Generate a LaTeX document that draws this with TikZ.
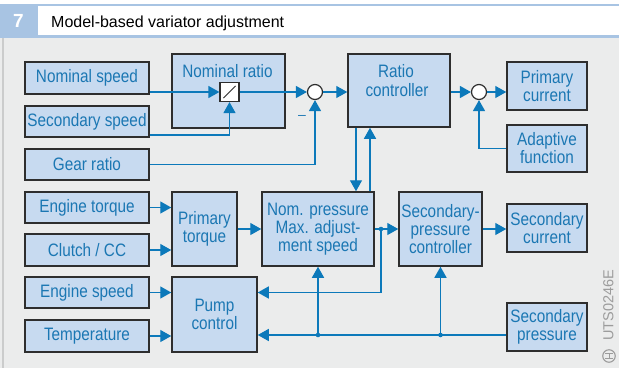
\documentclass[tikz,border=0pt]{standalone}
\usepackage{fontspec}
\setmainfont{Liberation Sans}
\newfontfamily\narrowfont{Liberation Sans}[FakeStretch=0.85]
\usetikzlibrary{arrows.meta,calc}
\definecolor{hdrblue}{HTML}{A8C4E3}
\definecolor{bodybg}{HTML}{EBECEC}
\definecolor{edgegray}{HTML}{CBCCCC}
\definecolor{boxfill}{HTML}{C7DAF0}
\definecolor{boxborder}{HTML}{2E2E2E}
\definecolor{txtblue}{HTML}{1B77B3}
\definecolor{lineblue}{HTML}{0C79BA}
\definecolor{markgray}{HTML}{9C9C9C}
\tikzset{
  box/.style={draw=boxborder, line width=1.5pt, fill=boxfill, text=txtblue,
    font=\narrowfont\fontsize{18}{18}\selectfont, align=center, inner sep=0pt},
  lbl/.style={text=txtblue, font=\narrowfont\fontsize{18}{18}\selectfont, inner sep=0pt, anchor=base},
  conn/.style={draw=lineblue, line width=1.4pt},
  arr/.style={conn, -{Triangle[length=11pt,width=12pt]}},
  sumpt/.style={circle, draw=boxborder, line width=1.2pt, fill=white, minimum size=15pt, inner sep=0pt},
  jdot/.style={fill=lineblue}
}
\begin{document}
\begin{tikzpicture}[x=1pt,y=-1pt]
\useasboundingbox (0,0) rectangle (619,368);
\fill[white] (0,0) rectangle (619,368);
\fill[bodybg] (0,38) rectangle (619,368);
\fill[hdrblue] (0,4) rectangle (619,6);
\fill[hdrblue] (0,35) rectangle (619,38);
\fill[hdrblue] (0,4) rectangle (38,38);
\fill[edgegray] (2,38) rectangle (4,368);
\node[text=white, font=\bfseries\fontsize{19}{19}\selectfont, inner sep=0pt] (num) at (18.5,21) {7};
\node[anchor=base west, inner sep=0pt, font=\fontsize{16}{16}\selectfont] (title) at (51,27) {Model-based variator adjustment};

% left inputs
\node[box, minimum width=124pt, minimum height=32pt] (nomspeed) at (87,78) {Nominal speed};
\node[box, minimum width=124pt, minimum height=31pt] (secspeed) at (87,121.5) {Secondary speed};
\node[box, minimum width=124pt, minimum height=31pt] (gear) at (87,164.5) {Gear ratio};
\node[box, minimum width=124pt, minimum height=31pt] (engtorque) at (87,207.5) {Engine torque};
\node[box, minimum width=124pt, minimum height=32pt] (clutch) at (87,250) {Clutch / CC};
\node[box, minimum width=124pt, minimum height=31pt] (engspeed) at (87,292.5) {Engine speed};
\node[box, minimum width=124pt, minimum height=32pt] (temp) at (87,336) {Temperature};

% top row
\node[box, minimum width=113pt, minimum height=74pt] (nomratio) at (228.5,91) {};
\node[lbl] (nomratiotxt) at (227.5,77) {Nominal ratio};
\node[draw=boxborder, line width=1.2pt, fill=white, minimum size=19pt, inner sep=0pt] (div) at (229.5,92) {};
\draw[boxborder, line width=1pt] ($(div.south west)+(4,-4)$) -- ($(div.north east)+(-4,4)$);
\node[sumpt] (sum1) at (315,92) {};
\node[box, minimum width=102pt, minimum height=73pt] (ratioctl) at (399,90.5) {};
\node[lbl] (ratiotxt) at (396,77) {Ratio};
\node[lbl] (ctltxt) at (397,96) {controller};
\node[sumpt] (sum2) at (479,92) {};
\node[box, minimum width=80pt, minimum height=48pt] (primcur) at (547,86) {Primary\\current};
\node[box, minimum width=80pt, minimum height=47pt] (adapt) at (547,148.5) {Adaptive\\function};
\node[text=txtblue, font=\fontsize{14}{14}\selectfont, inner sep=0pt] (minus) at (302,117) {–};

% lower part
\node[box, minimum width=65pt, minimum height=74pt] (primtorque) at (204.5,229) {Primary\\torque};
\node[box, minimum width=85pt, minimum height=75pt] (pump) at (214.5,314.5) {Pump\\control};
\node[box, minimum width=112pt, minimum height=74pt] (nompress) at (318,229) {Nom. pressure\\Max. adjust-\\ment speed};
\node[box, minimum width=83pt, minimum height=74pt] (secpctl) at (440.5,229) {Secondary-\\pressure\\controller};
\node[box, minimum width=80pt, minimum height=48pt] (seccur) at (547,228) {Secondary\\current};
\node[box, minimum width=80pt, minimum height=48pt] (secpress) at (547,327) {Secondary\\pressure};

\coordinate (j1) at (381,229);
\coordinate (j1b) at (381,292.5);
\coordinate (j2) at (318,335);
\coordinate (j3) at (440.5,335);

% connectors
\draw[arr] (nomspeed.east |- div.west) -- (div.west);
\draw[arr] (secspeed.east |- 0,135) -| (div.south);
\draw[arr] (div.east) -- (sum1.west);
\draw[arr] (gear.east) -| (sum1.south);
\draw[arr] (sum1.east) -- (sum1.east -| ratioctl.west);
\draw[arr] (ratioctl.east |- sum2.west) -- (sum2.west);
\draw[arr] (sum2.east) -- (sum2.east -| primcur.west);
\draw[arr] (adapt.west) -| (sum2.south);
\draw[arr] (ratioctl.south -| 356,0) -- (nompress.north -| 356,0);
\draw[arr] (nompress.north -| 370,0) -- (ratioctl.south -| 370,0);
\draw[arr] (engtorque.east) -- (engtorque.east -| primtorque.west);
\draw[arr] (clutch.east) -- (clutch.east -| primtorque.west);
\draw[arr] (primtorque.east) -- (nompress.west);
\draw[arr] (nompress.east) -- (secpctl.west);
\draw[arr] (j1) -- (j1b) -- (j1b -| pump.east);
\draw[arr] (secpctl.east) -- (secpctl.east -| seccur.west);
\draw[arr] (engspeed.east) -- (engspeed.east -| pump.west);
\draw[arr] (temp.east) -- (temp.east -| pump.west);
\draw[arr] (secpress.west |- j2) -- (j2 -| pump.east);
\draw[arr] (j2) -- (nompress.south);
\draw[arr] (j3) -- (secpctl.south -| j3);
\fill[jdot] (j1) circle (2.3);
\fill[jdot] (j2) circle (2.3);
\fill[jdot] (j3) circle (2.3);

% code and logo
\node[rotate=90, text=markgray, font=\fontsize{14.5}{14.5}\selectfont, inner sep=0pt] (uts) at (608.5,305.5) {UTS0246E};
\node[circle, draw=markgray, line width=1.1pt, minimum size=12.5pt, inner sep=0pt] (logo) at (609,356) {};
\draw[markgray, line width=1pt] (605,353.5) -- (613,353.5) (605,358.5) -- (613,358.5) (609,353.5) -- (609,358.5);
\end{tikzpicture}
\end{document}
